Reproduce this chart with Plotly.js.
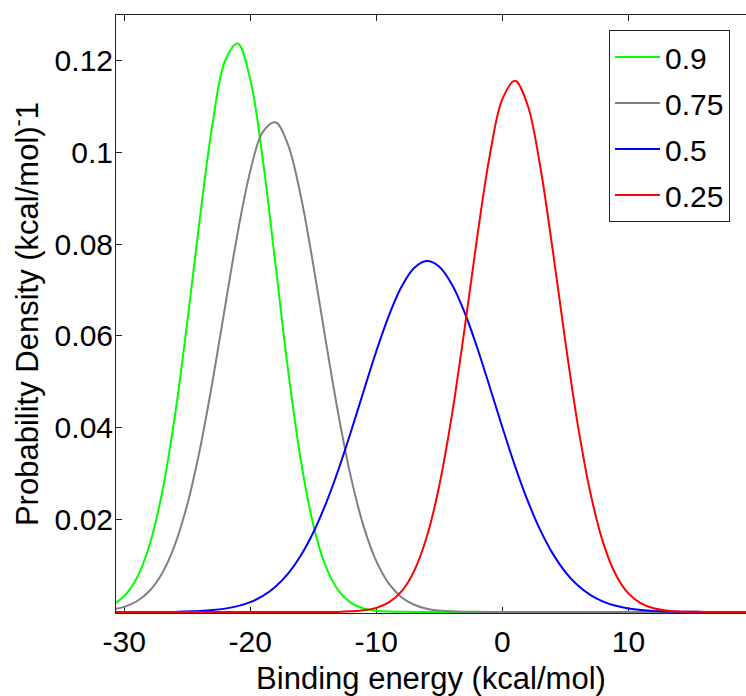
<!DOCTYPE html>
<html>
<head>
<meta charset="utf-8">
<script src="https://cdn.plot.ly/plotly-3.0.1.min.js"></script>
<style>html,body{margin:0;padding:0;background:#fff;}#chart{width:746px;height:696px;}</style>
</head>
<body>
<div id="chart"></div>
<script>
// Binding energy grid (kcal/mol)
const energy = [-31,-30,-29,-28,-27,-26,-25,-24,-23,-22,-21,-20,-19,-18,-17,-16,-15,-14,-13,-12,-11,-10,-9,-8,-7,-6,-5,-4,-3,-2,-1,0,1,2,3,4,5,6,7,8,9,10,11,12,13,14,15,16,17,18,19,20];

const seriesNames = ["0.9", "0.75", "0.5", "0.25"];

const density09 = [0.00145,0.00342,0.00737,0.01445,0.02586,0.0422,0.0629,0.0855,0.1060,0.1198,0.1236,0.1158,0.0983,0.0756,0.0526,0.0332,0.01897,0.00982,0.00461,0.00195,0.00075,0.00026,0.00008,0.00002,0,0,0,0,0,0,0,0,0,0,0,0,0,0,0,0,0,0,0,0,0,0,0,0,0,0,0,0];

const density075 = [0.00049,0.00110,0.00231,0.00453,0.00837,0.01443,0.02331,0.03527,0.04999,0.06632,0.08238,0.09583,0.10438,0.10646,0.10155,0.09054,0.07547,0.05879,0.04282,0.02915,0.01855,0.01103,0.00614,0.00319,0.00155,0.00070,0.00030,0.00012,0.00004,0.00001,0,0,0,0,0,0,0,0,0,0,0,0,0,0,0,0,0,0,0,0,0,0];

const density05 = [0,0,0,0,0,0,0.000105,0.00021,0.00039,0.00071,0.00125,0.00212,0.00347,0.00548,0.00833,0.01222,0.01727,0.02355,0.03097,0.03928,0.04804,0.05667,0.06445,0.07070,0.07479,0.0763,0.07506,0.07121,0.06516,0.05749,0.04892,0.04015,0.03177,0.02424,0.01784,0.01267,0.00867,0.00572,0.00364,0.00224,0.00132,0.00076,0.00042,0.00022,0.00011,0.00005,0.00002,0,0,0,0,0];

const density025 = [0,0,0,0,0,0,0,0,0,0,0,0,0,0,0,0,0,0,0,0.000126,0.00035,0.00088,0.00206,0.00446,0.00887,0.01627,0.0275,0.04283,0.06149,0.08136,0.09922,0.11149,0.11548,0.11023,0.09697,0.07861,0.05874,0.04045,0.02568,0.01502,0.00809,0.00402,0.00184,0.00078,0.0003,0.0001,0.00003,0,0,0,0,0];

const xTickVals = [-30,-20,-10,0,10];
const xTickText = ["-30","-20","-10","0","10"];
const yTickVals = [0.02,0.04,0.06,0.08,0.1,0.12];
const yTickText = ["0.02","0.04","0.06","0.08","0.1","0.12"];

const colors = ["#00ff00", "#808080", "#0000ff", "#ff0000"];
const allSeries = [density09, density075, density05, density025];

const traces = allSeries.map((ys, i) => ({
  x: energy,
  y: ys,
  type: "scatter",
  mode: "lines",
  name: seriesNames[i],
  legendgroup: "g" + i,
  line: {color: colors[i], width: 2, shape: "spline", smoothing: 1}
}));

const fam = "Liberation Sans, Arial, Helvetica, sans-serif";
const tickFont = {family: fam, size: 30, color: "#000"};
const titleFont = {family: fam, size: 31, color: "#000"};

const layout = {
  width: 746,
  height: 696,
  margin: {l: 116, r: 0, t: 15, b: 83, pad: 0},
  paper_bgcolor: "#fff",
  plot_bgcolor: "#fff",
  font: tickFont,
  showlegend: true,
  legend: {
    x: 0.7825, y: 0.975, xanchor: "left", yanchor: "top",
    bgcolor: "#fff", bordercolor: "#222", borderwidth: 1,
    font: tickFont, tracegroupgap: 4, itemwidth: 45
  },
  xaxis: {
    range: [-30.65, 19.33],
    tickmode: "array", tickvals: xTickVals, ticktext: xTickText,
    ticks: "inside", ticklen: 6, tickwidth: 1, tickcolor: "#222",
    showline: true, linecolor: "#222", linewidth: 1, mirror: "ticks",
    showgrid: false, zeroline: false, layer: "below traces",
    tickfont: tickFont, ticklabelstandoff: 2,
    title: {text: "Binding energy (kcal/mol)", font: titleFont, standoff: 13}
  },
  yaxis: {
    range: [-0.00024, 0.1298],
    tickmode: "array", tickvals: yTickVals, ticktext: yTickText,
    ticks: "inside", ticklen: 6, tickwidth: 1, tickcolor: "#222",
    showline: true, linecolor: "#222", linewidth: 1, mirror: false,
    showgrid: false, zeroline: false, layer: "below traces",
    tickfont: tickFont, ticklabelstandoff: -4,
    title: {text: "Probability Density (kcal/mol)<sup>-</sup>1", font: titleFont, standoff: 6}
  }
};

Plotly.newPlot("chart", traces, layout, {displayModeBar: false, staticPlot: true});
</script>
</body>
</html>
